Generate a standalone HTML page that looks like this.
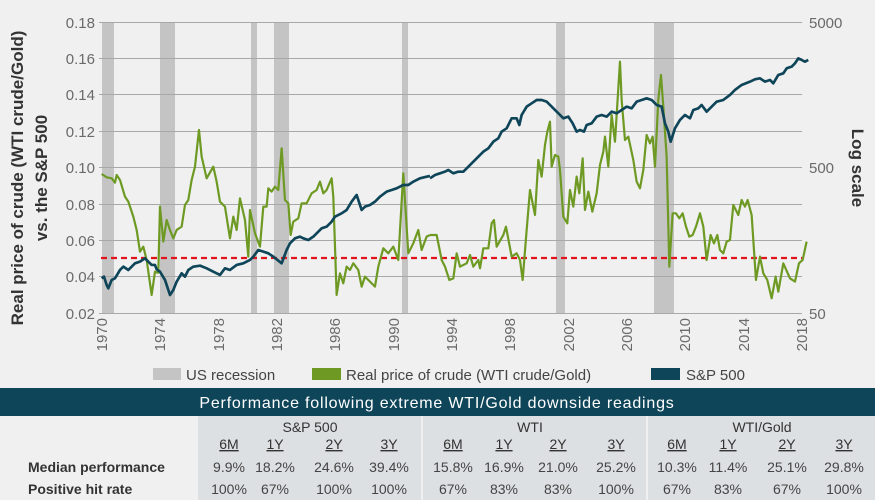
<!DOCTYPE html>
<html><head><meta charset="utf-8"><style>
body{margin:0;width:875px;height:500px;background:#f0f0f0;overflow:hidden;font-family:"Liberation Sans",sans-serif;}
svg{position:absolute;left:0;top:0}
</style></head><body>
<svg width="875" height="500" viewBox="0 0 875 500" xmlns="http://www.w3.org/2000/svg">
<rect width="875" height="500" fill="#f0f0f0"/>
<g fill="#c4c4c4">
<rect x="102" y="22" width="12" height="291"/>
<rect x="160" y="22" width="15" height="291"/>
<rect x="251" y="22" width="6" height="291"/>
<rect x="274" y="22" width="15" height="291"/>
<rect x="402" y="22" width="6" height="291"/>
<rect x="556" y="22" width="9" height="291"/>
<rect x="654" y="22" width="20" height="291"/>
</g>
<g stroke="#a8a8a8" stroke-width="1">
<line x1="99" x2="802" y1="22.5" y2="22.5"/>
<line x1="99" x2="802" y1="58.5" y2="58.5"/>
<line x1="99" x2="802" y1="94.5" y2="94.5"/>
<line x1="99" x2="802" y1="131.5" y2="131.5"/>
<line x1="99" x2="802" y1="167.5" y2="167.5"/>
<line x1="99" x2="802" y1="204.5" y2="204.5"/>
<line x1="99" x2="802" y1="240.5" y2="240.5"/>
<line x1="99" x2="802" y1="276.5" y2="276.5"/>
<line x1="99" x2="802" y1="313.5" y2="313.5"/>
</g>
<line x1="101" x2="802" y1="258" y2="258" stroke="#e0141b" stroke-width="2.2" stroke-dasharray="6,4"/>
<g fill="none" stroke="#6e9a24" stroke-width="6.6" stroke-linejoin="round">
<polyline transform="scale(0.3333)" points="305,522 320,532 335,535 345,548 350,525 360,540 375,590 385,605 400,650 410,690 420,755 430,740 440,780 455,885 465,815 475,818 480,620 490,725 500,660 510,690 520,715 530,690 545,680 555,615 565,600 575,540 585,500 597,390 605,470 620,535 640,500 650,545 660,605 675,620 690,715 700,650 710,690 720,595 735,660 745,770 750,630 765,700 780,740 790,620 800,620 805,565 815,575 825,560 835,570 845,445 855,600 865,610 872,705 880,665 895,655 905,610 920,610 935,580 950,570 960,545 970,580 980,570 995,535 1000,590 1010,885 1020,820 1030,850 1040,800 1050,810 1060,790 1075,810 1085,860 1095,830 1110,845 1125,860 1135,800 1150,745 1165,760 1180,740 1195,780 1210,520 1225,760 1240,730 1255,690 1265,750 1280,710 1290,705"/>
<polyline transform="translate(430,0) scale(0.3333)" points="0,705 20,705 35,780 45,800 58,840 70,835 80,760 90,800 110,790 120,765 130,800 145,780 150,805 160,745 175,745 185,670 192,660 200,740 220,705 228,680 245,770 260,760 270,780 278,840 290,690 300,570 315,645 325,480 335,530 345,435 352,395 360,365 365,500 375,465 385,470 390,510 400,650 412,670 420,570 430,620 440,530 448,580 458,475 465,630 475,575 487,635 500,580 510,495 520,455 525,410 535,500 545,345 555,425 570,185 575,300 585,420 595,410 610,480 620,545 630,565 640,510 650,405 660,430 668,410 675,500 685,300 693,225 700,320 710,470 718,800 728,640 738,640 748,655 758,640 768,680 778,710 788,705 798,680 810,640 820,680 830,780 842,705 852,730 862,705 870,750 880,760 890,725 900,720 910,615 925,645 935,600 945,620 953,600 965,645 978,840 990,770 1000,820 1012,840 1025,895 1037,830 1045,875 1060,790 1080,835 1095,845 1107,790 1118,780 1130,725"/>
</g>
<g fill="none" stroke="#0f4559" stroke-width="8" stroke-linejoin="round">
<polyline transform="scale(0.3333)" points="305,835 312,830 320,855 325,865 335,840 345,835 360,810 370,800 385,810 395,800 405,790 420,785 435,775 445,785 455,795 465,795 470,808 480,815 495,840 510,885 520,870 530,845 545,820 555,830 565,810 580,800 600,797 620,805 640,815 660,825 675,805 690,810 710,795 730,790 750,780 760,770 775,750 790,755 805,760 820,770 845,790 860,750 870,730 885,715 900,710 910,715 925,720 940,710 955,695 965,685 980,680 995,665 1005,650 1025,640 1040,630 1055,605 1070,585 1085,630 1095,620 1110,615 1125,605 1140,590 1160,575 1175,570 1190,565 1210,555 1225,555 1240,545 1260,535 1280,530 1290,528"/>
<polyline transform="translate(430,0) scale(0.3333)" points="0,535 15,525 30,520 45,515 55,510 70,520 85,515 100,515 115,500 130,485 145,470 160,455 175,445 190,425 205,415 215,395 230,385 245,355 260,355 268,375 275,345 290,320 305,310 320,300 335,300 350,305 360,315 375,330 390,345 400,355 415,350 428,370 440,395 450,390 462,395 470,375 485,370 500,350 515,345 530,350 545,335 560,340 575,330 590,320 605,325 620,305 635,300 650,295 665,300 680,315 695,320 705,370 715,395 722,425 735,385 750,360 765,345 780,355 790,330 805,325 815,315 830,335 845,320 860,305 880,300 900,285 915,270 935,255 960,245 975,238 990,235 1005,245 1020,240 1030,250 1045,225 1060,220 1070,205 1085,200 1095,190 1105,175 1115,180 1125,185 1135,180"/>
</g>
<g font-size="15" fill="#6a6a6a" text-anchor="end">
<text x="95" y="28">0.18</text><text x="95" y="64">0.16</text><text x="95" y="100">0.14</text>
<text x="95" y="137">0.12</text><text x="95" y="173">0.10</text><text x="95" y="210">0.08</text>
<text x="95" y="246">0.06</text><text x="95" y="282">0.04</text><text x="95" y="319">0.02</text>
</g>
<g font-size="15" fill="#6a6a6a">
<text x="809" y="28">5000</text><text x="809" y="173">500</text><text x="809" y="319">50</text>
</g>
<g font-size="15" fill="#6a6a6a" text-anchor="end">
<text transform="translate(107,318) rotate(-90)">1970</text>
<text transform="translate(165,318) rotate(-90)">1974</text>
<text transform="translate(224,318) rotate(-90)">1978</text>
<text transform="translate(282,318) rotate(-90)">1982</text>
<text transform="translate(340,318) rotate(-90)">1986</text>
<text transform="translate(399,318) rotate(-90)">1990</text>
<text transform="translate(457,318) rotate(-90)">1994</text>
<text transform="translate(515,318) rotate(-90)">1998</text>
<text transform="translate(574,318) rotate(-90)">2002</text>
<text transform="translate(632,318) rotate(-90)">2006</text>
<text transform="translate(690,318) rotate(-90)">2010</text>
<text transform="translate(749,318) rotate(-90)">2014</text>
<text transform="translate(807,318) rotate(-90)">2018</text>
</g>
<g font-size="17" font-weight="bold" fill="#333" text-anchor="middle">
<text transform="translate(23,178) rotate(-90)">Real price of crude (WTI crude/Gold)</text>
<text transform="translate(47,178) rotate(-90)">vs. the S&amp;P 500</text>
<text transform="translate(852,168) rotate(90)">Log scale</text>
</g>
<rect x="153" y="368" width="28" height="12" fill="#c4c4c4"/>
<text x="186" y="380" font-size="15" fill="#444">US recession</text>
<rect x="312" y="368" width="29" height="12" fill="#6e9a24"/>
<text x="346" y="380" font-size="15" fill="#444">Real price of crude (WTI crude/Gold)</text>
<rect x="651" y="368" width="29" height="12" fill="#0f4559"/>
<text x="686" y="380" font-size="15" fill="#444">S&amp;P 500</text>
<rect x="0" y="388" width="875" height="28" fill="#0f4559"/>
<text x="437" y="408" font-size="16" fill="#fff" text-anchor="middle" letter-spacing="0.8">Performance following extreme WTI/Gold downside readings</text>
<rect x="198" y="416" width="677" height="84" fill="#dde0e2"/>
<rect x="421" y="416" width="2" height="84" fill="#f0f0f0"/>
<rect x="646" y="416" width="2" height="84" fill="#f0f0f0"/>
<g font-size="14" fill="#333" text-anchor="middle">
<text x="310" y="432">S&amp;P 500</text><text x="530" y="432">WTI</text><text x="762" y="432">WTI/Gold</text>
</g>
<g font-size="14" fill="#333" text-anchor="middle" text-decoration="underline">
<text x="229" y="449">6M</text><text x="275" y="449">1Y</text><text x="334" y="449">2Y</text><text x="389" y="449">3Y</text>
<text x="453" y="449">6M</text><text x="504" y="449">1Y</text><text x="558" y="449">2Y</text><text x="616" y="449">3Y</text>
<text x="677" y="449">6M</text><text x="728" y="449">1Y</text><text x="787" y="449">2Y</text><text x="844" y="449">3Y</text>
</g>
<g font-size="14" font-weight="bold" fill="#333">
<text x="28" y="472">Median performance</text>
<text x="28" y="494">Positive hit rate</text>
</g>
<g font-size="14" fill="#444" text-anchor="middle">
<text x="229" y="472">9.9%</text><text x="275" y="472">18.2%</text><text x="334" y="472">24.6%</text><text x="389" y="472">39.4%</text>
<text x="453" y="472">15.8%</text><text x="504" y="472">16.9%</text><text x="558" y="472">21.0%</text><text x="616" y="472">25.2%</text>
<text x="677" y="472">10.3%</text><text x="728" y="472">11.4%</text><text x="787" y="472">25.1%</text><text x="844" y="472">29.8%</text>
<text x="229" y="494">100%</text><text x="275" y="494">67%</text><text x="334" y="494">100%</text><text x="389" y="494">100%</text>
<text x="453" y="494">67%</text><text x="504" y="494">83%</text><text x="558" y="494">83%</text><text x="616" y="494">100%</text>
<text x="677" y="494">67%</text><text x="728" y="494">83%</text><text x="787" y="494">67%</text><text x="844" y="494">100%</text>
</g>
</svg>
</body></html>
